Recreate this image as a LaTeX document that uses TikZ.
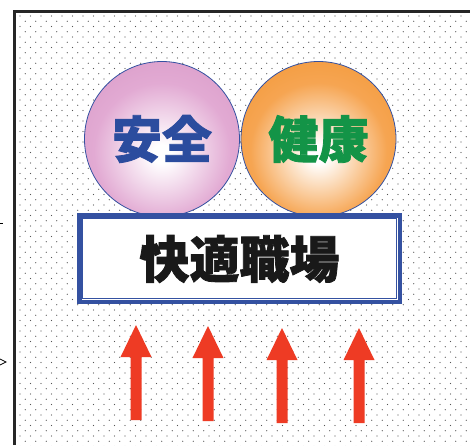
\documentclass[tikz,border=0pt]{standalone}
\usepackage{fontspec}
\newfontfamily\cjk{Noto Sans CJK JP}[BoldFeatures={FakeBold=1.6}]
\definecolor{frameblue}{HTML}{3451A1}
\definecolor{txtblue}{HTML}{2B4C9E}
\definecolor{txtgreen}{HTML}{139447}
\definecolor{arrred}{HTML}{EE3B24}
\definecolor{pinkedge}{HTML}{D595C3}
\definecolor{pinkmid}{HTML}{E2AAD3}
\definecolor{orangeedge}{HTML}{F2922A}
\definecolor{orangemid}{HTML}{F6A552}
\definecolor{dotgray}{HTML}{555555}
\pgfdeclareradialshading{pinkball}{\pgfpoint{0bp}{-5bp}}{color(0bp)=(white); color(3bp)=(white); color(22bp)=(pinkmid); color(42bp)=(pinkedge); color(100bp)=(pinkedge)}
\pgfdeclareradialshading{orangeball}{\pgfpoint{0bp}{-5bp}}{color(0bp)=(white); color(3bp)=(white); color(22bp)=(orangemid); color(42bp)=(orangeedge); color(100bp)=(orangeedge)}
\tikzset{
  ball/.style={circle, draw=frameblue, line width=0.8pt, minimum size=155pt, inner sep=0pt},
  balltext/.style={font=\cjk\bfseries\fontsize{50}{50}\selectfont},
  uparrow/.style={fill=arrred, draw=none},
  edgemark/.style={draw=black, line width=0.8pt}
}
\begin{document}
\begin{tikzpicture}[x=1pt,y=-1pt]
\useasboundingbox (0,0) rectangle (470,445);
\fill[white] (0,0) rectangle (470,445);
% dotted background
\foreach \r in {0,...,82}{
  \pgfmathsetmacro{\yy}{16+\r*5.25}
  \pgfmathsetmacro{\off}{mod(\r,2)*5.25}
  \foreach \c in {0,...,43}{
    \fill[dotgray] ({20+\off+\c*10.5},\yy) circle (0.7);
  }
}
% frame
\draw[line width=3pt, draw=black!85] (14,445) -- (14,11) -- (470,11);
% edge marks
\draw[edgemark] (0,223) -- (3,223);
\draw[edgemark] (0,359) -- (6,362) -- (0,365);
% balls
\node[ball, shading=pinkball] (anzen) at (162,139) {};
\node[ball, shading=orangeball] (kenko) at (318.5,139) {};
\node[balltext, text=txtblue] at (anzen) {安全};
\node[balltext, text=txtgreen] at (kenko) {健康};
% box
\coordinate (boxnw) at (77,213);
\coordinate (boxse) at (402,304);
\fill[white] (boxnw) rectangle (boxse);
\draw[frameblue, line width=4.5pt] (79.25,215.25) rectangle (399.75,301.75);
\draw[frameblue, line width=0.9pt] (82.5,218.5) rectangle (396.5,298.5);
\node[font=\cjk\bfseries\fontsize{50}{50}\selectfont, text=black!90] (shokuba) at (239.5,259) {快適職場};
% arrows
\foreach \x/\t/\b [count=\i] in {136/325/420, 208/326/421, 282/328/423, 359/328/423}{
  \coordinate (tip\i) at (\x,\t);
  \fill[uparrow] (tip\i) -- (\x+15.5,\t+32) -- (\x+5.5,\t+32) -- (\x+5.5,\b) -- (\x-5.5,\b) -- (\x-5.5,\t+32) -- (\x-15.5,\t+32) -- cycle;
}
\end{tikzpicture}
\end{document}
